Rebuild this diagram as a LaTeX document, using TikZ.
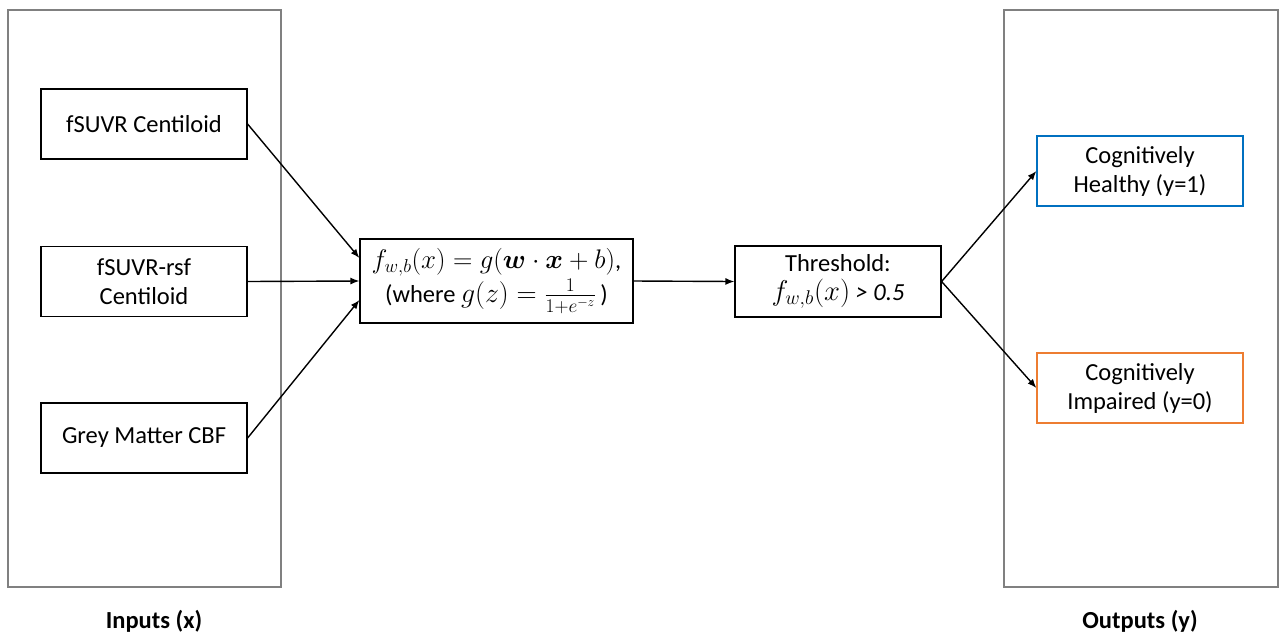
\documentclass[tikz,border=0pt]{standalone}
\usepackage{amsmath,bm,graphicx}
\usepackage{fontspec}
\setmainfont{Carlito}
\usetikzlibrary{arrows.meta}
\definecolor{panelgray}{RGB}{128,128,128}
\definecolor{hblue}{RGB}{0,112,192}
\definecolor{iorange}{RGB}{237,125,49}
\newcommand{\bigmath}[2][1.08]{\scalebox{#1}{$#2$}}
\tikzset{
  panel/.style={draw=panelgray,line width=1.2pt},
  box/.style={draw=black,line width=1.2pt,align=center,font=\fontsize{24.5}{29}\selectfont},
  conn/.style={line width=1.4pt,-{Latex[length=9pt,width=7pt]}},
  caption/.style={font=\fontsize{24.5}{29}\selectfont\bfseries}
}
\begin{document}
\begin{tikzpicture}[x=1pt,y=-1pt]
\useasboundingbox (0,0) rectangle (1286,641);
\fill[white] (0,0) rectangle (1286,641);
% panels
\draw[panel] (8,10) rectangle (281,587);
\draw[panel] (1004,10) rectangle (1278,587);
% inputs
\node[box,minimum width=206pt,minimum height=70pt] (in1) at (144,124) {fSUVR Centiloid};
\node[box,minimum width=206pt,minimum height=70pt] (in2) at (144,281.5) {fSUVR-rsf\\Centiloid};
\node[box,minimum width=206pt,minimum height=70pt] (in3) at (144,438) {Grey Matter CBF};
% formula
\node[box,minimum width=273pt,minimum height=84pt,inner sep=1pt] (f) at (496.5,281)
 {\bigmath{f_{w,b}(x) = g(\bm{w}\cdot\bm{x} + b)},\\[2pt](where \bigmath[1.12]{g(z) = \frac{1}{1+e^{-z}}}\,)};
% threshold
\node[box,minimum width=206pt,minimum height=71pt] (t) at (838,281.5)
 {Threshold:\\\bigmath[1.15]{f_{w,b}(x)} \textit{> 0.5}};
% outputs
\node[box,draw=hblue,minimum width=206pt,minimum height=70pt] (o1) at (1140,171) {Cognitively\\Healthy (y=1)};
\node[box,draw=iorange,minimum width=206pt,minimum height=70pt] (o0) at (1140,388) {Cognitively\\Impaired (y=0)};
% captions
\node[caption] (cin) at (154,621) {Inputs (x)};
\node[caption] (cout) at (1140,621) {Outputs (y)};
% connectors
\draw[conn] (in1.east) -- ([yshift=23pt]f.west);
\draw[conn] (in2.east) -- (f.west);
\draw[conn] (in3.east) -- ([yshift=-19pt]f.west);
\draw[conn] (f.east) -- (t.west);
\draw[conn] (t.east) -- (o1.west);
\draw[conn] (t.east) -- (o0.west);
\end{tikzpicture}
\end{document}
